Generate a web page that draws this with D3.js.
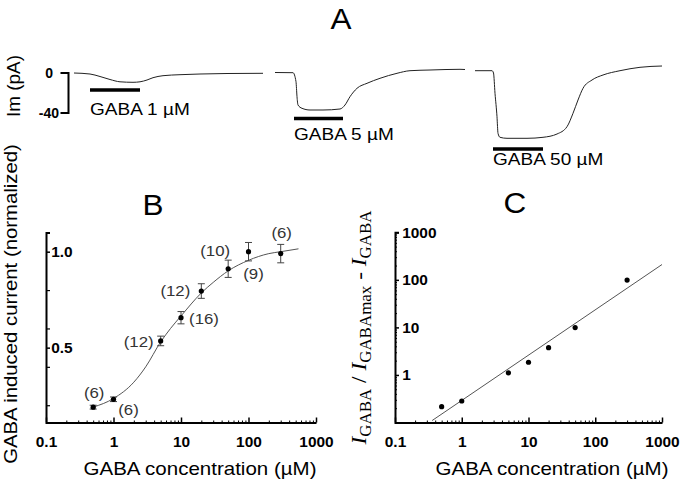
<!DOCTYPE html>
<html>
<head>
<meta charset="utf-8">
<script src="https://cdn.jsdelivr.net/npm/d3@7"></script>
<style>
  body { margin: 0; background: #fff; }
  svg text { font-family: "Liberation Sans", Arial, sans-serif; }
</style>
</head>
<body>
<svg id="chart" width="681" height="485"></svg>
<script>
// ---- Panel A: current traces (time in s, current in pA) ----
const trace1T = [0, 1.6, 2.6, 3.6, 4.6, 5.9, 6.6, 7.3, 7.9, 8.9, 10.6, 12.6, 15.3, 18.9];
const trace1I = [0, -1, -3.5, -6.5, -8.8, -9.3, -8.8, -7, -4.7, -2.7, -1.7, -1, -0.5, -0.3];
const trace2T = [20.1, 21.9, 22.2, 22.3, 22.4, 22.8, 23.6, 24.9, 26.6, 27.1, 27.6, 28.3, 29.3, 30.6, 32.3, 33.6, 35.6, 38.6, 39.1];
const trace2I = [0.5, 0.3, -8.7, -23.7, -32, -35.3, -37, -37, -36, -32, -23.7, -15.3, -10.3, -5.3, -0.3, 2.3, 3, 3.7, 3.5];
const trace3T = [40.1, 41.8, 41.95, 42.1, 42.3, 42.4, 42.6, 43.3, 45.3, 46.9, 48.3, 49.3, 49.9, 50.4, 50.9, 51.8, 52.9, 54.6, 56.6, 58.8];
const trace3I = [2.3, 2.3, 0, -20.3, -43.7, -60.3, -64.3, -65.3, -65.3, -64.3, -61, -53.7, -40.3, -27, -15.3, -7, -2, 2.3, 5.7, 7];
const gabaStart = [1.6, 22.0, 41.9];
const gabaEnd = [6.6, 26.9, 46.9];
const gabaLabels = ["GABA 1 µM", "GABA 5 µM", "GABA 50 µM"];
const scaleBarTicks = [0, -40];

// ---- Panel B: dose-response ----
const concB = [0.5, 1, 5, 10, 20, 50, 100, 300];
const normCurrent = [0.19, 0.231, 0.535, 0.656, 0.795, 0.911, 1.0, 0.99];
const normErr = [0.01, 0.012, 0.025, 0.032, 0.038, 0.045, 0.048, 0.048];
const nCells = ["(6)", "(6)", "(12)", "(16)", "(12)", "(10)", "(9)", "(6)"];
const fitConc = [0.5, 1, 2, 3, 5, 7, 10, 20, 30, 50, 100, 200, 300, 550];
const fitCurrent = [0.19, 0.235, 0.32, 0.4, 0.53, 0.6, 0.665, 0.785, 0.84, 0.9, 0.955, 0.99, 1.0, 1.015];
const yTicksB = [0.5, 1.0];
const yMinorB = [0.2, 0.4, 0.6, 0.8];

// ---- Panel C: Hill plot ----
const concC = [0.5, 1, 5, 10, 20, 50, 300];
const ratioC = [0.215, 0.283, 1.11, 1.85, 3.74, 9.9, 99];
const lineConc = [0.36, 1000];
const lineRatio = [0.11, 210];
const yTicksC = [1, 10, 100, 1000];

const xTicks = [0.1, 1, 10, 100, 1000];
const decades = [0.1, 1, 10, 100];

const svg = d3.select("#chart");
const sx = 1.13;

function addText(x, y, str, o = {}) {
    return svg.append("text")
        .attr("transform", `translate(${x},${y})` + (o.rotate ? ` rotate(${o.rotate})` : "") + ` scale(${o.sx || sx},1)`)
        .attr("text-anchor", o.anchor || "start")
        .style("font-size", (o.size || 16) + "px")
        .style("font-weight", o.weight || "normal")
        .style("fill", o.fill || "#000")
        .text(str);
}

const minorTicks = [];
decades.forEach(d => { for (let k = 2; k <= 9; k++) minorTicks.push(d * k); });

// ================= Panel A =================
addText(341, 29, "A", {anchor: "middle", size: 30, sx: 1.05});

const xA = d3.scaleLinear().domain([0, 60]).range([74, 674]);
const yA = d3.scaleLinear().domain([0, -40]).range([73, 113]);

const traceLine = d3.line()
    .x(d => xA(d[0]))
    .y(d => yA(d[1]))
    .curve(d3.curveMonotoneX);

[[trace1T, trace1I], [trace2T, trace2I], [trace3T, trace3I]].forEach(([t, c]) => {
    svg.append("path")
        .datum(t.map((v, i) => [v, c[i]]))
        .attr("fill", "none")
        .attr("stroke", "#222")
        .attr("stroke-width", 1)
        .attr("d", traceLine);
});

// scale bar
const barX = 68.5;
svg.append("path")
    .attr("fill", "none")
    .attr("stroke", "#000")
    .attr("stroke-width", 2)
    .attr("d", `M${barX - 8},${yA(0)}H${barX}V${yA(-40)}H${barX - 8}`);
addText(53, yA(scaleBarTicks[0]) + 5, String(scaleBarTicks[0]), {anchor: "end", size: 14, weight: "bold", sx: 1});
addText(59, yA(scaleBarTicks[1]) + 5, String(scaleBarTicks[1]), {anchor: "end", size: 14, weight: "bold", sx: 1});
addText(20, 86, "Im (pA)", {anchor: "middle", rotate: -90, size: 18, sx: 1.05});

// GABA application bars
const barY = [90, 118.5, 149];
const labelY = [115, 139.5, 165];
gabaStart.forEach((s, i) => {
    svg.append("line")
        .attr("x1", xA(s)).attr("x2", xA(gabaEnd[i]))
        .attr("y1", barY[i]).attr("y2", barY[i])
        .attr("stroke", "#000")
        .attr("stroke-width", 3.5);
    addText(xA(s), labelY[i], gabaLabels[i], {size: 17, sx: 1.12});
});

// ================= shared axis helpers =================
function styleAxis(g) {
    g.select(".domain").attr("stroke", "#000").attr("stroke-width", 2);
    g.selectAll(".tick line").attr("stroke", "#000").attr("stroke-width", 1.5);
    g.selectAll(".tick text")
        .attr("transform", `scale(1.03,1)`)
        .style("font-family", '"Liberation Sans", Arial, sans-serif')
        .style("font-size", "15px")
        .style("font-weight", "bold")
        .style("fill", "#000");
}

function logXAxis(x, y) {
    const g = svg.append("g").attr("transform", `translate(0,${y})`);
    g.call(d3.axisBottom(x).tickValues(xTicks).tickSizeInner(-5).tickSizeOuter(0)
        .tickPadding(14).tickFormat(d3.format("~g")));
    styleAxis(g);
    const m = svg.append("g").attr("transform", `translate(0,${y})`);
    m.call(d3.axisBottom(x).tickValues(minorTicks).tickSizeInner(-2).tickSizeOuter(0).tickFormat(""));
    m.select(".domain").remove();
    m.selectAll(".tick line").attr("stroke", "#000").attr("stroke-width", 1);
}

// ================= Panel B =================
addText(153, 215, "B", {anchor: "middle", size: 30, sx: 1.05});

const xB = d3.scaleLog().domain([0.1, 1000]).range([46, 316]);
const yB = d3.scaleLinear().domain([0.11, 1.1]).range([422.5, 232.5]);

const gyB = svg.append("g").attr("transform", `translate(${xB(0.1)},0)`);
gyB.call(d3.axisRight(yB).tickValues(yTicksB).tickSize(4).tickPadding(1).tickFormat(d3.format(".1f")));
styleAxis(gyB);
const gyBm = svg.append("g").attr("transform", `translate(${xB(0.1)},0)`);
gyBm.call(d3.axisRight(yB).tickValues(yMinorB).tickSize(4).tickFormat(""));
gyBm.select(".domain").remove();
gyBm.selectAll(".tick line").attr("stroke", "#000").attr("stroke-width", 1.2);

logXAxis(xB, yB(0.11));

// fit curve
svg.append("path")
    .datum(fitConc.map((c, i) => [c, fitCurrent[i]]))
    .attr("fill", "none")
    .attr("stroke", "#555")
    .attr("stroke-width", 1)
    .attr("d", d3.line().x(d => xB(d[0])).y(d => yB(d[1])).curve(d3.curveMonotoneX));

// error bars
concB.forEach((c, i) => {
    const cx = xB(c);
    const top = yB(normCurrent[i] + normErr[i]);
    const bot = yB(normCurrent[i] - normErr[i]);
    svg.append("path")
        .attr("fill", "none")
        .attr("stroke", "#444")
        .attr("stroke-width", 1)
        .attr("d", `M${cx},${top}V${bot}M${cx - 3.5},${top}H${cx + 3.5}M${cx - 3.5},${bot}H${cx + 3.5}`);
});

svg.selectAll(".ptB")
    .data(concB)
    .enter()
    .append("circle")
    .attr("class", "ptB")
    .attr("cx", d => xB(d))
    .attr("cy", (d, i) => yB(normCurrent[i]))
    .attr("r", 2.6)
    .attr("fill", "#000");

// sample size annotations
const nOffsets = [[1, -9], [15, 16], [-22, 6], [23, 6], [-26, 5], [-13, -13], [5, 27], [1, -16]];
nCells.forEach((s, i) => {
    addText(xB(concB[i]) + nOffsets[i][0], yB(normCurrent[i]) + nOffsets[i][1], s,
        {anchor: "middle", size: 15, fill: "#333", sx: 1.12});
});

addText(200, 475, "GABA concentration (µM)", {anchor: "middle", size: 18, sx: 1.14});
addText(17, 304, "GABA induced current (normalized)", {anchor: "middle", rotate: -90, size: 18, sx: 1.13});

// ================= Panel C =================
addText(515, 213, "C", {anchor: "middle", size: 30, sx: 1.05});

const xC = d3.scaleLog().domain([0.1, 1000]).range([395, 662]);
const yC = d3.scaleLog().domain([0.1, 1000]).range([422.5, 232.3]);

const gyC = svg.append("g").attr("transform", `translate(${xC(0.1)},0)`);
gyC.call(d3.axisRight(yC).tickValues(yTicksC).tickSize(4).tickPadding(3).tickFormat(d3.format("~g")));
styleAxis(gyC);
const gyCm = svg.append("g").attr("transform", `translate(${xC(0.1)},0)`);
gyCm.call(d3.axisRight(yC).tickValues(minorTicks).tickSize(2).tickFormat(""));
gyCm.select(".domain").remove();
gyCm.selectAll(".tick line").attr("stroke", "#000").attr("stroke-width", 1);

logXAxis(xC, yC(0.1));

svg.append("path")
    .datum(lineConc.map((c, i) => [c, lineRatio[i]]))
    .attr("fill", "none")
    .attr("stroke", "#555")
    .attr("stroke-width", 1)
    .attr("d", d3.line().x(d => xC(d[0])).y(d => yC(d[1])));

svg.selectAll(".ptC")
    .data(concC)
    .enter()
    .append("circle")
    .attr("class", "ptC")
    .attr("cx", d => xC(d))
    .attr("cy", (d, i) => yC(ratioC[i]))
    .attr("r", 2.6)
    .attr("fill", "#000");

addText(552, 475, "GABA concentration (µM)", {anchor: "middle", size: 18, sx: 1.14});

// y title with italic I and subscripts
const tC = svg.append("text")
    .attr("transform", "translate(366,327.5) rotate(-90) scale(1.06,1)")
    .attr("text-anchor", "middle")
    .style("font-family", '"Liberation Serif", "Times New Roman", serif')
    .style("fill", "#000");
const titleParts = [
    ["I", "big"], ["GABA", "sub"], [" / ", "sep"],
    ["I", "big"], ["GABAmax", "sub"], [" - ", "sep"],
    ["I", "big"], ["GABA", "sub"]
];
let shifted = false;
titleParts.forEach(([s, kind]) => {
    const ts = tC.append("tspan").text(s);
    if (kind === "sub") {
        ts.attr("dy", 5).style("font-size", "16px");
        shifted = true;
    } else {
        ts.attr("dy", shifted ? -5 : 0).style("font-size", "22px");
        shifted = false;
        if (kind === "big") ts.style("font-style", "italic");
    }
});
</script>
</body>
</html>
